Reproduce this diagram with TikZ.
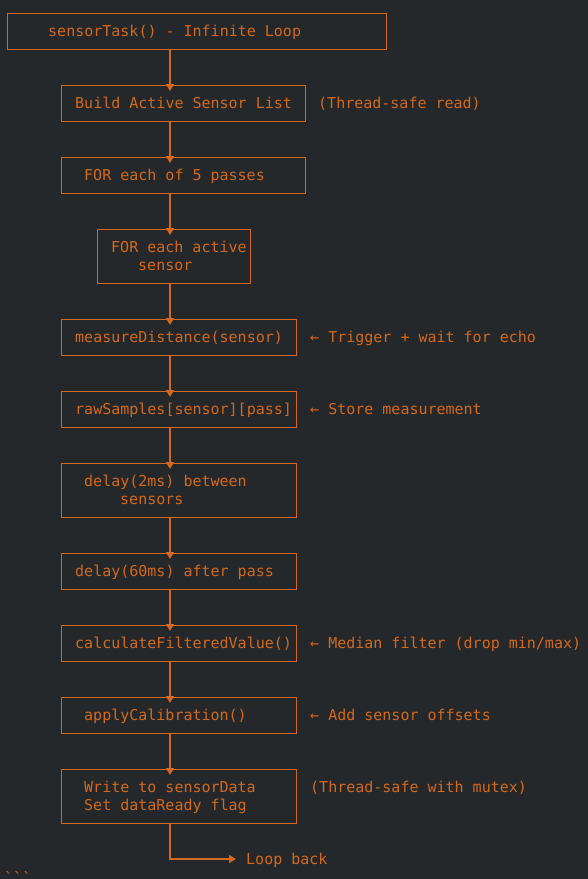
\documentclass[tikz,border=0pt]{standalone}
\usepackage{fontspec}
\setmonofont{DejaVu Sans Mono}
\usetikzlibrary{arrows.meta}
\definecolor{bg}{HTML}{25282A}
\definecolor{fg}{HTML}{D2691E}
\tikzset{
  box/.style={draw=fg, line width=1.2pt, rectangle, inner sep=0pt, anchor=north west},
  txt/.style={text=fg, inner sep=0pt, anchor=base west, font=\ttfamily\fontsize{15}{18}\selectfont},
  arr/.style={draw=fg, line width=1.2pt, -{Triangle[width=8pt,length=7pt]}, shorten >=-6pt},
  arrb/.style={draw=fg, line width=1.2pt, -{Triangle[width=8pt,length=7pt]}},
}
\begin{document}
\begin{tikzpicture}[x=1pt,y=-1pt]
\fill[bg] (0,0) rectangle (588,879);
\useasboundingbox (0,0) rectangle (588,879);
\coordinate (spine) at (170,0);
% boxes
\node[box, minimum width=379pt, minimum height=36pt] (b1) at (7,13) {};
\node[box, minimum width=244pt, minimum height=36pt] (b2) at (61,85) {};
\node[box, minimum width=244pt, minimum height=36pt] (b3) at (61,157) {};
\node[box, minimum width=153pt, minimum height=54pt] (b4) at (97,229) {};
\node[box, minimum width=235pt, minimum height=36pt] (b5) at (61,319) {};
\node[box, minimum width=235pt, minimum height=36pt] (b6) at (61,391) {};
\node[box, minimum width=235pt, minimum height=54pt] (b7) at (61,463) {};
\node[box, minimum width=235pt, minimum height=36pt] (b8) at (61,553) {};
\node[box, minimum width=235pt, minimum height=36pt] (b9) at (61,625) {};
\node[box, minimum width=235pt, minimum height=36pt] (b10) at (61,697) {};
\node[box, minimum width=235pt, minimum height=54pt] (b11) at (61,769) {};
% texts
\node[txt] (t1) at (48,36.5) {sensorTask() - Infinite Loop};
\node[txt] (t2) at (75,108.5) {Build Active Sensor List};
\node[txt] (n2) at (318,108.5) {(Thread-safe read)};
\node[txt] (t3) at (84,180.5) {FOR each of 5 passes};
\node[txt] (t4a) at (111,252.5) {FOR each active};
\node[txt] (t4b) at (138,270.5) {sensor};
\node[txt] (t5) at (75,342.5) {measureDistance(sensor)};
\node[txt] (n5) at (310,342.5) {← Trigger + wait for echo};
\node[txt] (t6) at (75,414.5) {rawSamples[sensor][pass]};
\node[txt] (n6) at (310,414.5) {← Store measurement};
\node[txt] (t7a) at (84,486.5) {delay(2ms) between};
\node[txt] (t7b) at (120,504.5) {sensors};
\node[txt] (t8) at (75,576.5) {delay(60ms) after pass};
\node[txt] (t9) at (75,648.5) {calculateFilteredValue()};
\node[txt] (n9) at (310,648.5) {← Median filter (drop min/max)};
\node[txt] (t10) at (84,720.5) {applyCalibration()};
\node[txt] (n10) at (310,720.5) {← Add sensor offsets};
\node[txt] (t11a) at (84,792.5) {Write to sensorData};
\node[txt] (t11b) at (84,810.5) {Set dataReady flag};
\node[txt] (n11) at (310,792.5) {(Thread-safe with mutex)};
\node[txt] (lb) at (246,864.5) {Loop back};
\node[txt] (ticks) at (4,883) {```};
% connectors
\draw[arr] (b1.south -| spine) -- (b2.north -| spine);
\draw[arr] (b2.south -| spine) -- (b3.north -| spine);
\draw[arr] (b3.south -| spine) -- (b4.north -| spine);
\draw[arr] (b4.south -| spine) -- (b5.north -| spine);
\draw[arr] (b5.south -| spine) -- (b6.north -| spine);
\draw[arr] (b6.south -| spine) -- (b7.north -| spine);
\draw[arr] (b7.south -| spine) -- (b8.north -| spine);
\draw[arr] (b8.south -| spine) -- (b9.north -| spine);
\draw[arr] (b9.south -| spine) -- (b10.north -| spine);
\draw[arr] (b10.south -| spine) -- (b11.north -| spine);
\coordinate (lbend) at (236,859);
\draw[arrb] (b11.south -| spine) |- (lbend);
\end{tikzpicture}
\end{document}
